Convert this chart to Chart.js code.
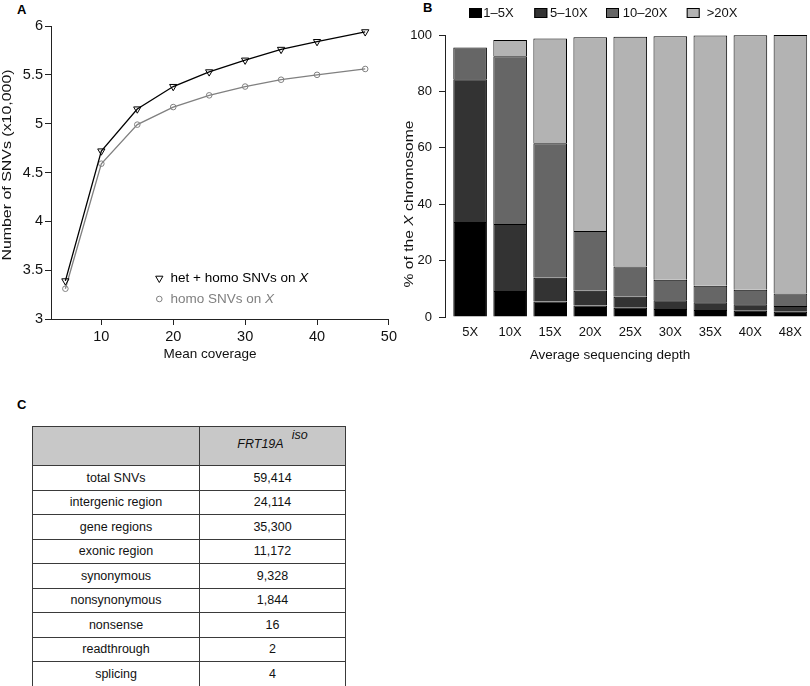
<!DOCTYPE html>
<html>
<head>
<meta charset="utf-8">
<script src="https://cdn.jsdelivr.net/npm/chart.js@4.4.1/dist/chart.umd.min.js"></script>
<style>
  html, body { margin:0; padding:0; background:#fff; width:810px; height:686px; overflow:hidden;
    font-family:"Liberation Sans", Arial, Helvetica, sans-serif; }
  canvas { position:absolute; top:0; }
  #cA { left:0; }
  #cB { left:400px; }
  .plab { position:absolute; font-weight:bold; font-size:13px; line-height:13px; color:#000; }
  #tbl { position:absolute; left:32px; top:426px; border-collapse:collapse; table-layout:fixed;
    border:1.5px solid #111; font-size:12.5px; color:#111; }
  #tbl th, #tbl td { border:1px solid #3a3a3a; text-align:center; padding:0; font-weight:normal; }
  #tbl th { background:#c8c8c8; height:38px; }
  #tbl td { height:23.5px; }
  #tbl .hd { font-style:italic; position:relative; top:-2px; }
  #tbl .sup { font-style:italic; position:relative; top:-11px; margin-left:8px; }
</style>
</head>
<body>
<div class="plab" style="left:17px;top:3px;">A</div>
<div class="plab" style="left:423px;top:1px;">B</div>
<div class="plab" style="left:17px;top:398px;">C</div>
<canvas id="cA" width="400" height="370"></canvas>
<canvas id="cB" width="410" height="370"></canvas>
<table id="tbl">
  <colgroup><col style="width:167px"><col style="width:146px"></colgroup>
  <thead><tr><th></th><th><span class="hd">FRT19A</span><span class="sup">iso</span></th></tr></thead>
  <tbody id="tbody"></tbody>
</table>
<script>
// ---------------- Panel A data ----------------
const coverageX   = [5, 10, 15, 20, 25, 30, 35, 40, 46.7];
const hetHomoSNVs = [3.39, 4.72, 5.15, 5.38, 5.53, 5.65, 5.76, 5.84, 5.94];
const homoSNVs    = [3.31, 4.59, 4.99, 5.17, 5.29, 5.38, 5.45, 5.50, 5.56];
const coverageTicks = [10, 20, 30, 40, 50];
const snvTicks = [3, 3.5, 4, 4.5, 5, 5.5, 6];
const seriesLabels = ['het + homo SNVs on X', 'homo SNVs on X'];

// ---------------- Panel B data ----------------
const depthCategories = ['5X', '10X', '15X', '20X', '25X', '30X', '35X', '40X', '48X'];
const depth1to5   = [33.7, 9.2, 5.5, 4.1, 3.3, 2.8, 2.5, 2.2, 1.9];
const depth5to10  = [50.6, 23.8, 8.4, 5.2, 3.9, 3.1, 2.7, 2.3, 2.0];
const depth10to20 = [11.3, 59.5, 47.7, 21.2, 10.7, 7.3, 5.9, 5.2, 4.4];
const depthOver20 = [0, 5.7, 37.2, 68.7, 81.5, 86.4, 88.7, 90.2, 91.7];
const depthLegend = ['1–5X', '5–10X', '10–20X', '>20X'];
const percentTicks = [0, 20, 40, 60, 80, 100];

// ---------------- Panel C data ----------------
const tableRowLabels = ['total SNVs', 'intergenic region', 'gene regions', 'exonic region',
  'synonymous', 'nonsynonymous', 'nonsense', 'readthrough', 'splicing'];
const tableRowValues = ['59,414', '24,114', '35,300', '11,172', '9,328', '1,844', '16', '2', '4'];

// build table
const tb = document.getElementById('tbody');
tableRowLabels.forEach((lab, i) => {
  const tr = document.createElement('tr');
  const a = document.createElement('td'); a.textContent = lab;
  const b = document.createElement('td'); b.textContent = tableRowValues[i];
  tr.appendChild(a); tr.appendChild(b); tb.appendChild(tr);
});

const FONT = '"Liberation Sans", Arial, Helvetica, sans-serif';
Chart.defaults.font.family = FONT;
Chart.defaults.color = '#111';

function richParts(str) {
  return str.split(/(\bX\b)/).filter(s => s.length).map(s => ({ t: s, italic: s === 'X' }));
}
function drawRich(ctx, parts, x, y, align, size, color) {
  const fonts = parts.map(p => (p.italic ? 'italic ' : '') + size + 'px ' + FONT);
  const widths = parts.map((p, i) => { ctx.font = fonts[i]; return ctx.measureText(p.t).width; });
  const total = widths.reduce((a, b) => a + b, 0);
  let sx = align === 'center' ? x - total / 2 : x;
  ctx.fillStyle = color; ctx.textBaseline = 'middle'; ctx.textAlign = 'left';
  parts.forEach((p, i) => { ctx.font = fonts[i]; ctx.fillText(p.t, sx, y); sx += widths[i]; });
}

const annotPlugin = {
  id: 'annot',
  afterDraw(chart, args, opts) {
    const ctx = chart.ctx;
    ctx.save();
    (opts.texts || []).forEach(t => {
      ctx.save();
      ctx.translate(t.x, t.y);
      if (t.rotate) ctx.rotate(t.rotate);
      if (t.stretch) ctx.scale(t.stretch, 1);
      drawRich(ctx, richParts(t.text), 0, 0, 'center', t.size, t.color || '#111');
      ctx.restore();
    });
    const lg = opts.legend;
    if (lg && lg.kind === 'points') {
      chart.data.datasets.forEach((ds, i) => {
        const y = lg.y[i];
        ctx.save();
        ctx.strokeStyle = ds.pointBorderColor; ctx.fillStyle = 'rgba(0,0,0,0)';
        ctx.lineWidth = ds.pointBorderWidth;
        Chart.helpers.drawPoint(ctx, { pointStyle: ds.pointStyle, rotation: ds.pointRotation || 0,
          radius: ds.pointRadius, borderWidth: ds.pointBorderWidth }, lg.markerX, y);
        ctx.restore();
        drawRich(ctx, richParts(ds.label), lg.textX, y, 'left', lg.size, ds.borderColor);
      });
    }
    if (lg && lg.kind === 'boxes') {
      chart.data.datasets.forEach((ds, i) => {
        ctx.fillStyle = ds.backgroundColor;
        ctx.fillRect(lg.boxX[i], lg.y - lg.boxH / 2, lg.boxW, lg.boxH);
        ctx.strokeStyle = '#000'; ctx.lineWidth = 1;
        ctx.strokeRect(lg.boxX[i] + 0.5, lg.y - lg.boxH / 2 + 0.5, lg.boxW - 1, lg.boxH - 1);
        drawRich(ctx, richParts(ds.label), lg.textX[i], lg.y, 'left', lg.size, '#111');
      });
    }
    ctx.restore();
  }
};

// ---------------- Chart A ----------------
new Chart(document.getElementById('cA'), {
  type: 'line',
  data: {
    datasets: [
      { label: seriesLabels[0], data: coverageX.map((x, i) => ({ x, y: hetHomoSNVs[i] })),
        borderColor: '#000', borderWidth: 1.3, pointStyle: 'triangle', pointRotation: 180,
        pointRadius: 4.2, pointBorderColor: '#000', pointBackgroundColor: 'rgba(0,0,0,0)',
        pointBorderWidth: 1, tension: 0, clip: false },
      { label: seriesLabels[1], data: coverageX.map((x, i) => ({ x, y: homoSNVs[i] })),
        borderColor: '#808080', borderWidth: 1.3, pointStyle: 'circle',
        pointRadius: 2.8, pointBorderColor: '#808080', pointBackgroundColor: 'rgba(0,0,0,0)',
        pointBorderWidth: 1, tension: 0, clip: false }
    ]
  },
  options: {
    responsive: false, animation: false, devicePixelRatio: 1,
    layout: { padding: { top: 26, right: 10, left: 0, bottom: 0 } },
    plugins: {
      legend: { display: false }, tooltip: { enabled: false },
      annot: {
        texts: [
          { text: 'Mean coverage', x: 210, y: 354, size: 13.5 },
          { text: 'Number of SNVs (x10,000)', x: 7.5, y: 165, size: 13.5, rotate: -Math.PI / 2, stretch: 1.18 }
        ],
        legend: { kind: 'points', markerX: 159.3, textX: 170.5, y: [278.3, 299], size: 13.5 }
      }
    },
    scales: {
      x: {
        type: 'linear', min: 3, max: 50,
        afterBuildTicks: s => { s.ticks = coverageTicks.map(v => ({ value: v })); },
        afterFit: s => { s.height = 51; },
        grid: { drawOnChartArea: false, drawTicks: true, tickLength: 6, color: '#222', tickColor: '#222' },
        border: { display: true, color: '#222', width: 1 },
        ticks: { padding: 3, font: { size: 14.5 }, color: '#111', maxRotation: 0, autoSkip: false,
          callback: v => String(v) }
      },
      y: {
        type: 'linear', min: 3, max: 6,
        afterBuildTicks: s => { s.ticks = snvTicks.map(v => ({ value: v })); },
        afterFit: s => { s.width = 51; },
        grid: { drawOnChartArea: false, drawTicks: true, tickLength: 6, color: '#222', tickColor: '#222' },
        border: { display: true, color: '#222', width: 1 },
        ticks: { padding: 2, font: { size: 14.5 }, color: '#111', autoSkip: false,
          callback: v => String(v) }
      }
    }
  },
  plugins: [annotPlugin]
});

// ---------------- Chart B ----------------
const depthSeries = [depth1to5, depth5to10, depth10to20, depthOver20];
const depthColors = ['#000000', '#333333', '#666666', '#b3b3b3'];
new Chart(document.getElementById('cB'), {
  type: 'bar',
  data: {
    datasets: depthSeries.map((arr, k) => ({
      label: depthLegend[k],
      data: arr.map((v, i) => ({ x: i, y: v })),
      backgroundColor: depthColors[k], borderColor: '#000',
      borderWidth: { top: 1, left: 1, right: 1, bottom: 0 }, borderSkipped: false,
      barPercentage: 0.84, categoryPercentage: 1
    }))
  },
  options: {
    responsive: false, animation: false, devicePixelRatio: 1,
    layout: { padding: { top: 35, right: 0, left: 0, bottom: 0 } },
    plugins: {
      legend: { display: false }, tooltip: { enabled: false },
      annot: {
        texts: [
          { text: 'Average sequencing depth', x: 210, y: 355, size: 13.5 },
          { text: '% of the X chromosome', x: 9, y: 204, size: 13.5, rotate: -Math.PI / 2, stretch: 1.16 }
        ],
        legend: { kind: 'boxes', y: 13, boxW: 13, boxH: 10, boxX: [69, 134.3, 206, 286.7],
          textX: [83.3, 150, 222.7, 306.7], size: 13 }
      }
    },
    scales: {
      x: {
        type: 'linear', stacked: true, offset: false, min: -0.627, max: 8.42,
        afterBuildTicks: s => { s.ticks = depthCategories.map((c, i) => ({ value: i })); },
        afterFit: s => { s.height = 53; },
        grid: { display: false, drawTicks: false, offset: false },
        border: { display: false },
        ticks: { padding: 8, font: { size: 13 }, color: '#111', maxRotation: 0, autoSkip: false,
          callback: v => depthCategories[v] }
      },
      y: {
        type: 'linear', stacked: true, min: 0, max: 100,
        afterBuildTicks: s => { s.ticks = percentTicks.map(v => ({ value: v })); },
        afterFit: s => { s.width = 45; },
        grid: { drawOnChartArea: false, drawTicks: true, tickLength: 6, color: '#222', tickColor: '#222' },
        border: { display: true, color: '#222', width: 1 },
        ticks: { padding: 7, font: { size: 13 }, color: '#111', autoSkip: false, callback: v => String(v) }
      }
    }
  },
  plugins: [annotPlugin]
});
</script>
</body>
</html>
